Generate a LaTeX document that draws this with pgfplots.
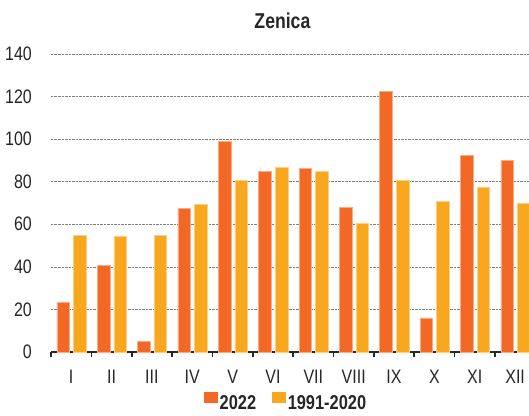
\documentclass[border=0pt]{standalone}
\usepackage{fontspec}
\setmainfont{Liberation Sans}[FakeStretch=0.82]
\usepackage{pgfplots}
\pgfplotsset{compat=1.18}
\definecolor{c22}{RGB}{243,104,36}
\definecolor{cnorm}{RGB}{249,167,30}
\definecolor{axc}{RGB}{40,40,40}
\begin{document}
\begin{tikzpicture}
\begin{axis}[
 at={(0,0)}, anchor=south west,
 scale only axis, width=484.3pt, height=298pt,
 xmin=-0.5, xmax=11.5, ymin=0, ymax=140,
 axis x line*=bottom, axis y line*=left,
 y axis line style={draw=none},
 x axis line style={line width=1.6pt, color=axc, -},
 xtick={0,...,11},
 xticklabels={I,II,III,IV,V,VI,VII,VIII,IX,X,XI,XII},
 minor xtick={-0.5,0.5,...,11.5},
 ytick={0,20,...,140},
 major tick length=0pt, minor tick length=5pt,
 tick align=outside,
 minor x tick style={line width=1.6pt, color=axc},
 ytick style={draw=none},
 ymajorgrids,
 major grid style={dash pattern=on 2.5pt off 1pt, color=gray, line width=0.7pt},
 tick label style={font=\fontsize{19.5}{22}\selectfont, text=black!85},
 /pgf/number format/assume math mode=true,
 yticklabel style={anchor=east, inner sep=0pt, xshift=-19pt},
 xticklabel style={anchor=base, inner sep=0pt, yshift=-31.5pt},
 legend columns=2,
 legend style={at={(axis description cs:0.4855,-0.2047)}, anchor=south, draw=none, fill=none, inner sep=0pt,
   font=\bfseries\fontsize{20}{24}\selectfont, text=black!85,
   nodes={inner sep=2pt},
   /tikz/every even column/.append style={column sep=14pt}},
]
\addplot[ybar, bar width=12.6pt, bar shift=-8pt, fill=c22, draw=c22!55!white, line width=0.6pt,
  legend image code/.code={\fill[c22] (0pt,0.5pt) rectangle (13pt,11pt);}]
 coordinates {(0,23.3) (1,40.6) (2,5.0) (3,67.5) (4,99.1) (5,84.7) (6,86.4) (7,68.0) (8,122.6) (9,16.0) (10,92.5) (11,89.9)};
\addplot[ybar, bar width=12.6pt, bar shift=8.6pt, fill=cnorm, draw=cnorm!55!white, line width=0.6pt,
  legend image code/.code={\fill[cnorm] (0pt,0.5pt) rectangle (13pt,11pt);}]
 coordinates {(0,54.8) (1,54.4) (2,54.6) (3,69.5) (4,80.7) (5,86.9) (6,85.0) (7,60.5) (8,80.7) (9,70.8) (10,77.5) (11,69.9)};
\legend{2022,1991-2020}
\end{axis}
\node[font=\bfseries\fontsize{21.5}{24}\selectfont, text=black!85, anchor=base, inner sep=0pt] at (231.4pt,323.7pt) {Zenica};
\pgfresetboundingbox
\path[use as bounding box] (-51pt,-63pt) rectangle (478pt,352pt);
\end{tikzpicture}
\end{document}
